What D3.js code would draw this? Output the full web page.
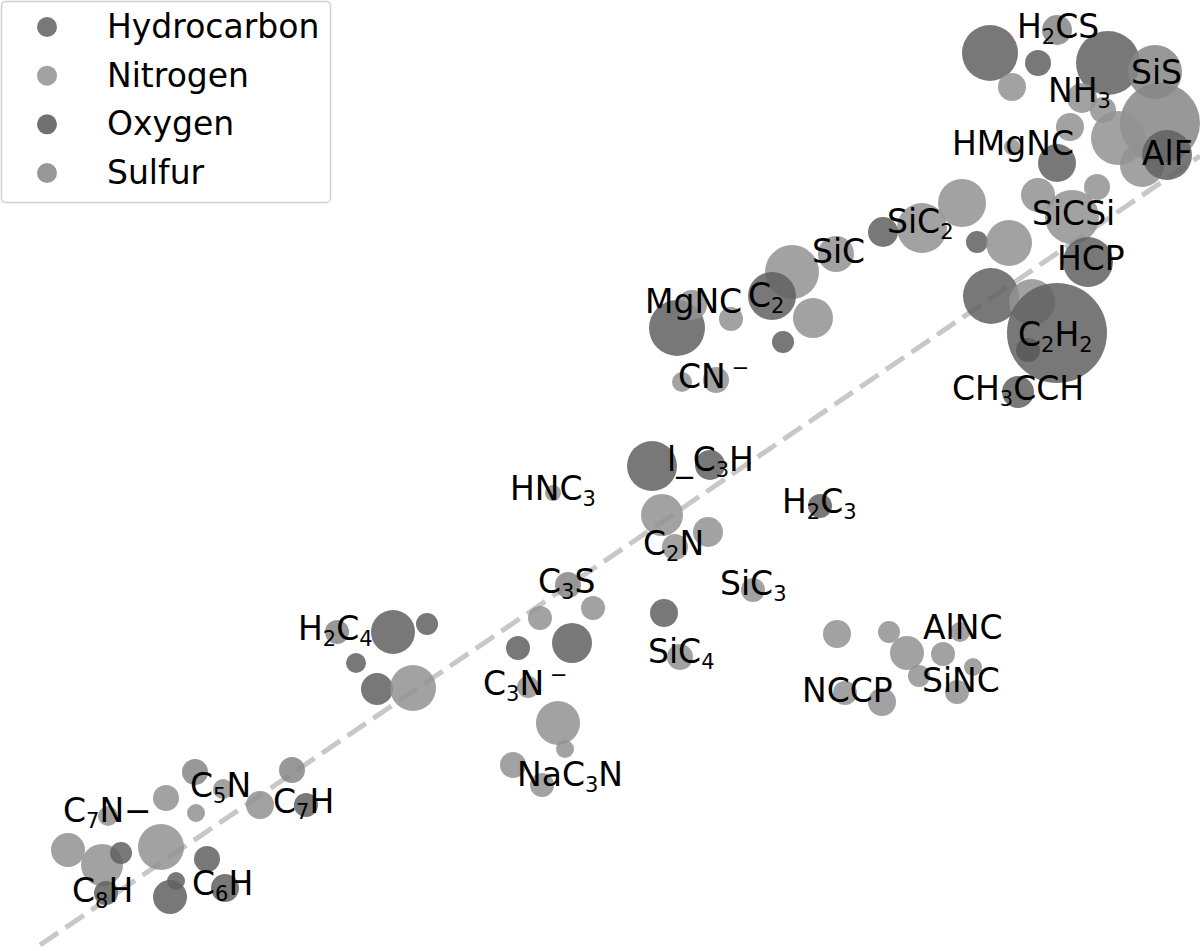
<!DOCTYPE html>
<html>
<head>
<meta charset="utf-8">
<script src="https://cdn.jsdelivr.net/npm/d3@7"></script>
<style>
  body { margin: 0; background: #fff; }
  text { font-family: "DejaVu Sans", sans-serif; }
</style>
</head>
<body>
<div id="chart"></div>
<script>
// molecules (one circle each): position, radius, group
var molX = [9.90,10.57,10.38,10.12,11.08,11.55,10.82,11.03,10.70,11.60,11.18,11.42,11.67,10.12,10.57,10.38,10.97,10.72,9.62,9.22,
            8.83,9.77,10.09,10.88,9.91,10.32,10.57,10.28,10.18,8.36,7.92,7.72,8.13,7.31,7.83,6.77,6.92,6.82,7.16,6.52,
            7.10,5.53,6.62,7.08,6.75,8.20,7.53,5.68,5.93,6.64,5.40,5.72,5.18,6.80,5.28,8.37,8.89,9.07,9.60,9.43,
            9.19,9.73,9.57,8.45,8.82,3.37,3.93,4.27,3.56,3.77,4.13,5.58,5.65,5.13,5.42,1.95,2.23,2.92,2.60,3.06,
            1.66,1.96,1.08,0.68,1.02,1.21,1.61,2.07,1.06,1.76,1.70,2.25];
var molY = [8.98,9.21,8.88,8.64,8.88,8.79,8.53,8.41,8.24,8.28,8.13,7.86,7.96,8.04,7.88,7.56,7.64,7.34,7.48,7.23,
            7.19,7.09,7.08,6.89,6.55,6.49,6.18,6.01,5.59,6.97,6.79,6.55,6.33,6.32,6.09,6.23,6.46,5.69,5.71,4.85,
            4.86,4.58,4.36,4.19,4.04,4.45,3.61,3.66,3.43,3.38,3.33,3.08,3.03,2.94,2.64,3.17,3.19,2.98,3.19,2.97,
            2.75,2.84,2.59,2.58,2.49,3.19,3.19,3.27,2.88,2.62,2.63,2.28,2.02,1.86,1.66,1.79,1.62,1.81,1.46,1.46,
            1.53,1.38,1.35,1.01,0.86,0.98,1.04,0.92,0.58,0.70,0.54,0.63];
var molSize = [28,15,13,14,32,27,15,13,14,40,27,22,25,8,19,17,13,27,24,25,
               15,11,23,25,28,23,50,12,16,18,27,24,20,12,11,28,15,10,13,25,
               15,8,21,15,13,12,12,13,12,14,12,20,12,13,11,14,11,17,10,12,
               11,9,12,12,14,12,22,11,10,16,23,22,9,13,12,13,10,13,14,12,
               13,9,10,17,21,11,23,13,12,9,17,14];
var molGroup = ["H","S","H","N","H","S","N","N","N","S","N","N","H","N","H","N","N","N","N","N",
                "H","H","N","H","H","N","H","O","H","N","N","H","N","N","H","H","N","N","N","H",
                "H","N","N","N","N","H","N","S","N","H","N","H","H","N","N","N","N","N","N","N",
                "N","N","N","N","N","S","H","H","H","H","N","N","N","N","N","S","N","S","N","H",
                "N","N","N","N","N","H","N","H","H","H","H","H"];

// labels ({x} = subscript, [x] = superscript)
var labelText = ["H{2}CS","SiS","NH{3}","HMgNC","AlF","SiCSi","HCP","C{2}H{2}","CH{3}CCH","SiC{2}",
                 "SiC","C{2}","MgNC","CN[−]","l_C{3}H","HNC{3}","H{2}C{3}","C{2}N","C{3}S","SiC{3}",
                 "SiC{4}","C{3}N[−]","AlNC","SiNC","NCCP","H{2}C{4}","NaC{3}N","C{5}N","C{7}H","C{7}N−",
                 "C{8}H","C{6}H"];
var labelX = [10.17,11.31,10.48,9.52,11.42,10.32,10.57,10.18,9.52,8.87,
              8.12,7.48,6.45,6.78,6.67,5.10,7.82,6.43,5.38,7.20,
              6.48,4.83,9.23,9.22,8.02,2.98,5.17,1.90,2.73,0.63,
              0.72,1.92];
var labelY = [9.13,8.67,8.49,7.96,7.86,7.26,6.81,6.05,5.51,7.18,
              6.88,6.44,6.38,5.63,4.80,4.51,4.38,3.96,3.58,3.56,
              2.88,2.56,3.12,2.59,2.49,3.11,1.65,1.54,1.38,1.29,
              0.49,0.56];

// reference line
var refX = [0.40, 12.0];
var refY = [0.06, 7.95];

var groups = ["H","N","O","S"];
var groupNames = ["Hydrocarbon","Nitrogen","Oxygen","Sulfur"];
var groupColors = ["#606060","#929292","#585858","#868686"];

var width = 1200, height = 951;

var svg = d3.select("#chart").append("svg")
    .attr("width", width)
    .attr("height", height);

var x = d3.scaleLinear().domain([0, 12]).range([0, width]);
var y = d3.scaleLinear().domain([0, 9.51]).range([height, 0]);
var r = d3.scaleLinear().domain([0, 50]).range([0, 50]);
var color = d3.scaleOrdinal().domain(groups).range(groupColors);

// dashed line goes under the circles
svg.append("line")
    .attr("x1", x(refX[0])).attr("y1", y(refY[0]))
    .attr("x2", x(refX[1])).attr("y2", y(refY[1]))
    .attr("stroke", "#c8c8c8")
    .attr("stroke-width", 5)
    .attr("stroke-dasharray", "22,9");

var mols = molX.map(function(d, i) {
    return {x: d, y: molY[i], s: molSize[i], g: molGroup[i]};
});

svg.selectAll("circle.mol")
    .data(mols)
    .enter()
    .append("circle")
    .attr("class", "mol")
    .attr("cx", function(d) { return x(d.x); })
    .attr("cy", function(d) { return y(d.y); })
    .attr("r", function(d) { return r(d.s); })
    .attr("fill", function(d) { return color(d.g); })
    .attr("fill-opacity", 0.85);

// split "H{2}CS" into parts
function parseLabel(s) {
    var parts = [], re = /\{([^}]*)\}|\[([^\]]*)\]|([^{\[]+)/g, m;
    while ((m = re.exec(s)) !== null) {
        if (m[1] !== undefined) parts.push({t: m[1], k: "sub"});
        else if (m[2] !== undefined) parts.push({t: m[2], k: "sup"});
        else parts.push({t: m[3], k: "norm"});
    }
    return parts;
}

var fs = 33;
labelText.forEach(function(s, i) {
    var t = svg.append("text")
        .attr("x", x(labelX[i]))
        .attr("y", y(labelY[i]))
        .style("font-size", fs + "px")
        .attr("fill", "#000");
    var shift = 0;
    parseLabel(s).forEach(function(p) {
        var want = p.k === "sub" ? 6 : (p.k === "sup" ? -13 : 0);
        var ts = t.append("tspan")
            .attr("dy", want - shift)
            .text(p.t);
        if (p.k !== "norm") ts.style("font-size", Math.round(fs * 0.64) + "px");
        if (p.k === "sup") ts.attr("dx", 6);
        shift = want;
    });
});

// legend
var leg = svg.append("g");
leg.append("rect")
    .attr("x", 1.5).attr("y", 1.5)
    .attr("width", 329).attr("height", 201)
    .attr("rx", 4)
    .attr("fill", "#fff")
    .attr("fill-opacity", 0.8)
    .attr("stroke", "#d0d0d0")
    .attr("stroke-width", 1.5);

var legY = d3.scalePoint().domain(groupNames).range([27, 173]);
groupNames.forEach(function(name, i) {
    leg.append("circle")
        .attr("cx", 47)
        .attr("cy", legY(name))
        .attr("r", 10)
        .attr("fill", groupColors[i])
        .attr("fill-opacity", 0.85);
    leg.append("text")
        .attr("x", 107)
        .attr("y", legY(name) + 11)
        .style("font-size", fs + "px")
        .text(name);
});
</script>
</body>
</html>
